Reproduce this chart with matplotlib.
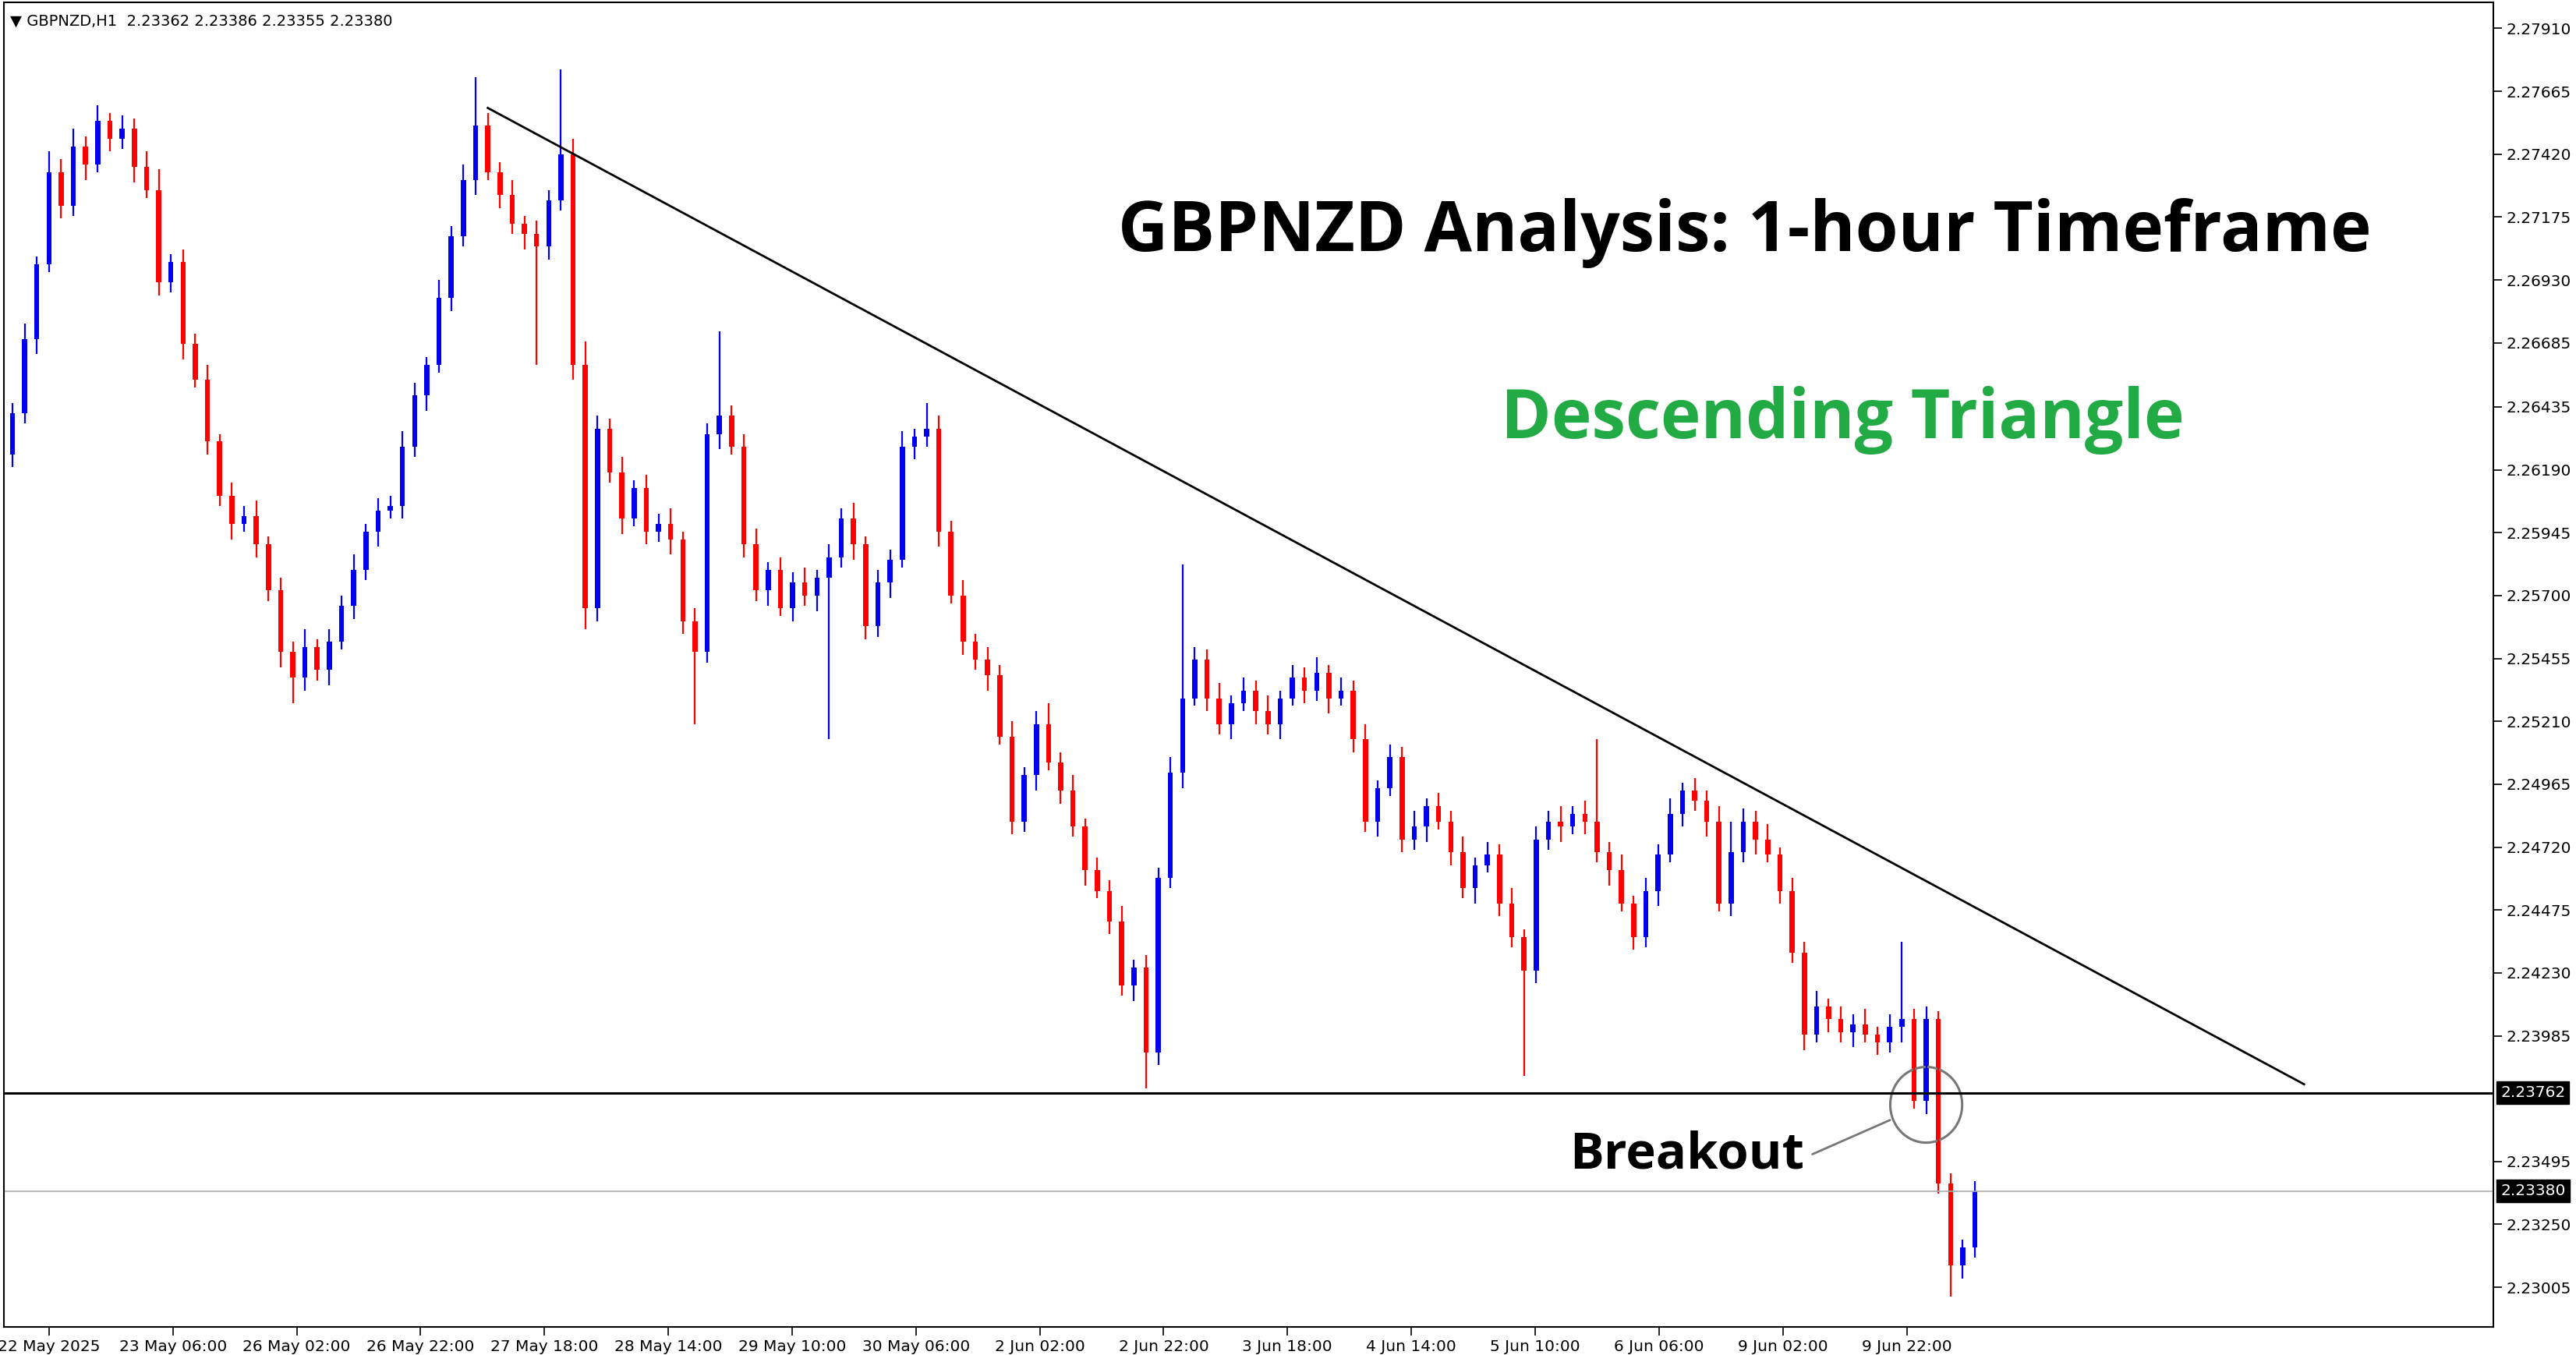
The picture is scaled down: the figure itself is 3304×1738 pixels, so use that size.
import matplotlib
matplotlib.use("Agg")
import matplotlib.pyplot as plt
from matplotlib.patches import Ellipse
import numpy as np

closes = [
2.2641,2.2670,2.2699,2.2735,2.2722,2.2745,2.2738,2.2755,2.2748,2.2752,
2.2737,2.2728,2.2692,2.2700,2.2668,2.2654,2.2630,2.2609,2.2598,2.2601,
2.2590,2.2572,2.2548,2.2538,2.2550,2.2541,2.2552,2.2566,2.2580,2.2595,
2.2603,2.2605,2.2628,2.2648,2.2660,2.2686,2.2710,2.2732,2.2753,2.2735,
2.2726,2.2715,2.2711,2.2706,2.2724,2.2742,2.2660,2.2565,2.2635,2.2618,
2.2600,2.2612,2.2595,2.2598,2.2592,2.2560,2.2548,2.2633,2.2640,2.2628,
2.2590,2.2572,2.2580,2.2565,2.2575,2.2570,2.2577,2.2585,2.2600,2.2590,
2.2558,2.2575,2.2584,2.2628,2.2632,2.2635,2.2595,2.2570,2.2552,2.2545,
2.2539,2.2515,2.2482,2.2500,2.2520,2.2505,2.2494,2.2480,2.2463,2.2455,
2.2443,2.2418,2.2425,2.2392,2.2460,2.2501,2.2530,2.2545,2.2530,2.2520,
2.2528,2.2533,2.2525,2.2520,2.2530,2.2538,2.2533,2.2540,2.2530,2.2533,
2.2514,2.2482,2.2495,2.2507,2.2475,2.2480,2.2488,2.2482,2.2470,2.2456,
2.2465,2.2469,2.2450,2.2437,2.2424,2.2475,2.2482,2.2480,2.2485,2.2482,
2.2470,2.2463,2.2450,2.2437,2.2455,2.2469,2.2485,2.2494,2.2490,2.2482,
2.2450,2.2470,2.2482,2.2475,2.2469,2.2455,2.2431,2.2399,2.2410,2.2405,
2.2400,2.2403,2.2399,2.2396,2.2402,2.2405,2.2373,2.2405,2.2341,2.2309,
2.2316,2.2338]
first_open = 2.2625

upper_wick_pips = [
4,6,3,8,5,7,4,6,3,5, 4,6,8,3,5,4,6,3,5,4, 6,3,5,4,7,3,5,4,6,3,
5,4,6,5,3,7,4,6,19,5, 4,6,3,5,4,33,6,9,5,4, 6,3,5,4,6,3,5,4,33,4,
5,6,3,5,4,6,3,5,4,6, 3,5,4,6,3,10,5,4,6,3, 5,4,6,3,5,8,4,6,3,5,
4,6,3,5,4,6,52,5,4,6, 3,5,4,6,3,5,4,6,3,5, 4,6,3,5,4,6,3,5,4,6,
3,5,4,6,3,5,4,6,3,5, 32,4,6,3,5,4,6,3,5,4, 6,12,5,4,6,3,5,4,6,3,
5,4,6,3,5,30,4,5,3,4, 3,4]
lower_wick_pips = [
5,4,6,3,5,4,6,3,5,4, 6,3,5,4,6,3,5,4,6,3, 5,4,6,10,5,4,6,3,5,4,
6,3,5,4,6,3,5,4,6,3, 5,4,6,46,5,4,6,8,5,4, 6,3,5,4,6,5,28,4,6,3,
5,4,6,3,5,4,6,63,4,6, 5,4,6,3,5,4,6,3,5,4, 6,3,5,4,6,3,5,4,6,3,
5,4,6,14,5,4,6,3,5,4, 6,3,5,4,6,3,5,4,6,3, 5,4,6,3,5,4,6,3,5,4,
6,3,5,4,41,5,4,6,3,5, 4,6,3,5,4,6,3,5,4,6, 3,5,4,6,3,5,4,6,3,5,
4,6,3,5,4,6,3,5,4,12, 5,4]

date_labels = ["22 May 2025","23 May 06:00","26 May 02:00","26 May 22:00","27 May 18:00",
               "28 May 14:00","29 May 10:00","30 May 06:00","2 Jun 02:00","2 Jun 22:00",
               "3 Jun 18:00","4 Jun 14:00","5 Jun 10:00","6 Jun 06:00","9 Jun 02:00","9 Jun 22:00"]
price_ticks = [2.27910,2.27665,2.27420,2.27175,2.26930,2.26685,2.26435,2.26190,2.25945,2.25700,
               2.25455,2.25210,2.24965,2.24720,2.24475,2.24230,2.23985,2.23495,2.23250,2.23005]
support = 2.23762
last_price = 2.23380
trend_start = (39, 2.2760)
trend_end = (188, 2.23796)

fig = plt.figure(figsize=(33.05, 17.38), dpi=100)
ax = fig.add_axes([0.0015, 0.021, 0.966, 0.977])
n = len(closes)
opens = [first_open] + closes[:-1]
for i in range(n):
    o, c = opens[i], closes[i]
    hi = max(o, c) + upper_wick_pips[i] * 1e-4
    lo = min(o, c) - lower_wick_pips[i] * 1e-4
    col = "#0000ee" if c >= o else "#ff0000"
    ax.plot([i, i], [lo, hi], color=col, lw=1.6, solid_capstyle="butt")
    ax.bar(i, max(abs(c - o), 0.00003), bottom=min(o, c), width=0.42, color=col, linewidth=0)

ax.set_xlim(-0.7, 203.5)
ax.set_ylim(2.22852, 2.2801)
ax.axhline(support, color="black", lw=2.2)
ax.axhline(last_price, color="#aaaaaa", lw=1.2)
ax.plot([trend_start[0], trend_end[0]], [trend_start[1], trend_end[1]], color="black", lw=2)

ax.yaxis.tick_right()
ax.set_yticks(price_ticks)
ax.set_yticklabels([f"{v:.5f}" for v in price_ticks], fontsize=14.5)
xt = [3 + 10.16 * k for k in range(len(date_labels))]
ax.set_xticks(xt)
ax.set_xticklabels(date_labels, fontsize=14.5)
ax.tick_params(direction="out", length=8, width=1.2, pad=4)
for s in ax.spines.values():
    s.set_linewidth(1.5)

for val in (support, last_price):
    ax.text(1.003, val, f"{val:.5f}", transform=ax.get_yaxis_transform(), fontsize=14.5,
            color="white", va="center", ha="left",
            bbox=dict(boxstyle="square,pad=0.25", fc="black", ec="black"))

ax.add_patch(Ellipse((157, 2.23716), width=5.9, height=0.00295, fill=False, ec="#777777", lw=2.2))
ax.annotate("", xy=(154.2, 2.2366), xytext=(147.5, 2.2352),
            arrowprops=dict(arrowstyle="-", color="#777777", lw=2))
ax.text(147, 2.2352, "Breakout", fontsize=47, fontweight="bold", family="Open Sans",
        ha="right", va="center")

fig.text(0.677, 0.828, "GBPNZD Analysis: 1-hour Timeframe", fontsize=64, fontweight="bold",
         family="Open Sans", ha="center", va="center")
fig.text(0.715, 0.69, "Descending Triangle", fontsize=63, fontweight="bold",
         family="Open Sans", color="#22aa44", ha="center", va="center")
fig.text(0.004, 0.99, "\u25BC GBPNZD,H1  2.23362 2.23386 2.23355 2.23380", fontsize=14,
         ha="left", va="top")

fig.savefig("out.png", dpi=100)
